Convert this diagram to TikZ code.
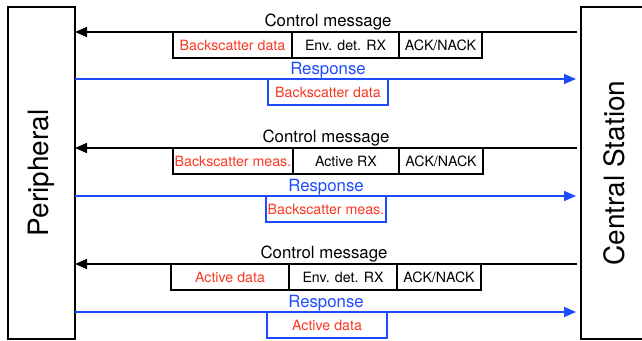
\documentclass[tikz,border=0pt]{standalone}
\usepackage{fontspec}
\setmainfont{TeX Gyre Heros}
\usetikzlibrary{arrows.meta,positioning}
\definecolor{msgred}{RGB}{250,55,35}
\definecolor{msgblue}{RGB}{30,75,255}

\begin{document}
\begin{tikzpicture}[x=0.5pt,y=-0.5pt,
  side/.style={draw,line width=0.9pt,minimum width=33.5pt,minimum height=166pt,inner sep=0pt,outer sep=0pt},
  sidelbl/.style={rotate=90,font=\fontsize{14}{16}\selectfont},
  field/.style={draw,line width=0.7pt,minimum height=13pt,inner sep=0pt,outer sep=0pt,font=\fontsize{7.1}{8.5}\selectfont},
  msglbl/.style={anchor=base,font=\fontsize{8.4}{10}\selectfont},
  ctrl/.style={line width=0.75pt,shorten <=2pt,-{Triangle[length=6pt,width=5pt]}},
  resp/.style={msgblue,line width=0.75pt,shorten >=2.5pt,-{Triangle[length=6pt,width=5pt]}}]

\useasboundingbox (0,0) rectangle (642,341);

\node[side] (per) at (41.5,173) {};
\node[sidelbl] (perlbl) at (per.center) {Peripheral};
\node[side] (cs) at (614.5,173) {};
\node[sidelbl] (cslbl) at (cs.center) {Central Station};

\node[field,anchor=north west,minimum width=59.5pt,text=msgred] (bd1) at (173,32) {Backscatter data};
\node[field,right=0pt of bd1,minimum width=53.5pt] (env1) {Env. det. RX};
\node[field,right=0pt of env1,minimum width=41.5pt] (ack1) {ACK/NACK};
\node[msglbl] (cm1) at (328,27) {Control message};
\draw[ctrl] (cs.west |- bd1.north) -- (per.east |- bd1.north);
\node[field,draw=msgblue,anchor=north west,minimum width=60pt,text=msgred] (rb1) at (268,79) {Backscatter data};
\node[msglbl,text=msgblue] (rs1) at (328,74.5) {Response};
\draw[resp] (per.east |- rb1.north) -- (cs.west |- rb1.north);

\node[field,anchor=north west,minimum width=60pt,text=msgred] (bm2) at (173,148) {Backscatter meas.};
\node[field,right=0pt of bm2,minimum width=53pt] (act2) {Active RX};
\node[field,right=0pt of act2,minimum width=42pt] (ack2) {ACK/NACK};
\node[msglbl] (cm2) at (326,143) {Control message};
\draw[ctrl] (cs.west |- bm2.north) -- (per.east |- bm2.north);
\node[field,draw=msgblue,anchor=north west,minimum width=60pt,text=msgred] (rb2) at (266,196) {Backscatter meas.};
\node[msglbl,text=msgblue] (rs2) at (326,191.5) {Response};
\draw[resp] (per.east |- rb2.north) -- (cs.west |- rb2.north);

\node[field,anchor=north west,minimum width=59pt,text=msgred] (ad3) at (171,264) {Active data};
\node[field,right=0pt of ad3,minimum width=54pt] (env3) {Env. det. RX};
\node[field,right=0pt of env3,minimum width=42pt] (ack3) {ACK/NACK};
\node[msglbl] (cm3) at (324,259) {Control message};
\draw[ctrl] (cs.west |- ad3.north) -- (per.east |- ad3.north);
\node[field,draw=msgblue,anchor=north west,minimum width=60pt,text=msgred] (rb3) at (267,312) {Active data};
\node[msglbl,text=msgblue] (rs3) at (326,307.5) {Response};
\draw[resp] (per.east |- rb3.north) -- (cs.west |- rb3.north);

\end{tikzpicture}
\end{document}
